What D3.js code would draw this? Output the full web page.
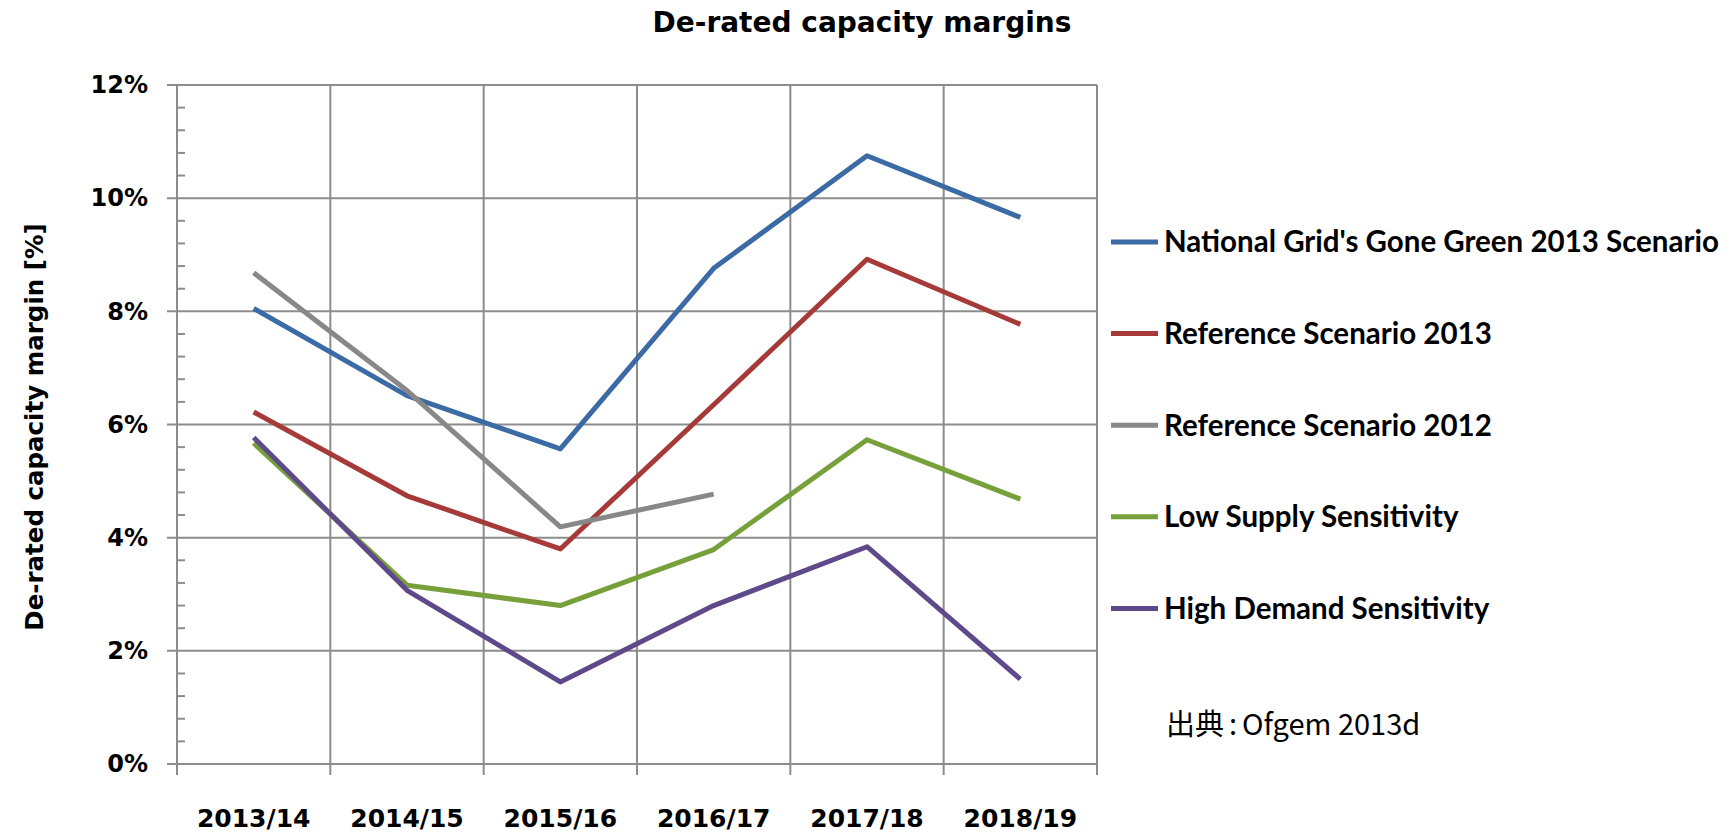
<!DOCTYPE html>
<html>
<head>
<meta charset="utf-8">
<script src="https://cdn.jsdelivr.net/npm/d3@7"></script>
<style>
    body { margin: 0; background: #fff; }
    text { font-family: 'DejaVu Sans', Verdana, sans-serif; fill: #000; }
</style>
</head>
<body>
<div id="chart"></div>
<script>
"use strict";

// categories along the x axis
var categories = ["2013/14", "2014/15", "2015/16", "2016/17", "2017/18", "2018/19"];

// series values, in percent
var nationalGrid = [8.05, 6.51, 5.57, 8.76, 10.75, 9.66];
var reference2013 = [6.22, 4.74, 3.80, 6.35, 8.92, 7.77];
var reference2012 = [8.68, 6.60, 4.19, 4.77, null, null];
var lowSupply = [5.67, 3.16, 2.80, 3.79, 5.73, 4.68];
var highDemand = [5.77, 3.07, 1.45, 2.80, 3.84, 1.50];

// series names for the legend
var seriesNames = [
    "National Grid's Gone Green 2013 Scenario",
    "Reference Scenario 2013",
    "Reference Scenario 2012",
    "Low Supply Sensitivity",
    "High Demand Sensitivity"
];

// y ticks (percent)
var yTicks = [0, 2, 4, 6, 8, 10, 12];

var colors = ["#3b6aa4", "#a53a38", "#888888", "#77a03a", "#5e4a8a"];

var series = [nationalGrid, reference2013, reference2012, lowSupply, highDemand].map(function (v, i) {
    return { name: seriesNames[i], color: colors[i], values: v };
});

var width = 1735, height = 833;
var margin = { top: 85, right: 638, bottom: 69, left: 177 };
var plotW = width - margin.left - margin.right,
    plotH = height - margin.top - margin.bottom;

var svg = d3.select("#chart")
    .append("svg")
    .attr("width", width)
    .attr("height", height);

var g = svg.append("g")
    .attr("transform", "translate(" + margin.left + "," + margin.top + ")");

// scales
var x = d3.scaleBand()
    .domain(categories)
    .range([0, plotW]);

var y = d3.scaleLinear()
    .domain([0, 12])
    .range([plotH, 0]);

var gridColor = "#8c8c8c";

// horizontal gridlines (stick out left as major ticks)
g.append("g")
    .selectAll("line")
    .data(yTicks)
    .enter()
    .append("line")
    .attr("x1", -10)
    .attr("x2", plotW)
    .attr("y1", function (d) { return y(d); })
    .attr("y2", function (d) { return y(d); })
    .attr("stroke", gridColor)
    .attr("stroke-width", 2);

// vertical gridlines at category boundaries, with ticks below the axis
var bounds = categories.map(function (c) { return x(c); }).concat([plotW]);
g.append("g")
    .selectAll("line")
    .data(bounds)
    .enter()
    .append("line")
    .attr("x1", function (d) { return d; })
    .attr("x2", function (d) { return d; })
    .attr("y1", 0)
    .attr("y2", plotH + 11)
    .attr("stroke", gridColor)
    .attr("stroke-width", 2);

// minor ticks on the y axis, inside the plot
var minor = d3.range(0, 12, 0.4).filter(function (d) { return Math.abs(d / 2 - Math.round(d / 2)) > 0.01; });
g.append("g")
    .selectAll("line")
    .data(minor)
    .enter()
    .append("line")
    .attr("x1", 0)
    .attr("x2", 8)
    .attr("y1", function (d) { return y(d); })
    .attr("y2", function (d) { return y(d); })
    .attr("stroke", gridColor)
    .attr("stroke-width", 2);

// y axis labels
var yAxis = g.append("g")
    .call(d3.axisLeft(y).tickValues(yTicks).tickSize(0).tickPadding(29)
        .tickFormat(function (d) { return d + "%"; }));
yAxis.select(".domain").remove();
yAxis.selectAll("text")
    .attr("fill", "#000")
    .style("font-family", "'DejaVu Sans', Verdana, sans-serif")
    .style("font-weight", "bold")
    .style("font-size", "24px");

// x axis labels
var xAxis = g.append("g")
    .attr("transform", "translate(0," + plotH + ")")
    .call(d3.axisBottom(x).tickSize(0));
xAxis.select(".domain").remove();
xAxis.selectAll("text")
    .attr("fill", "#000")
    .attr("y", 63)
    .attr("dy", 0)
    .style("font-family", "'DejaVu Sans', Verdana, sans-serif")
    .style("font-weight", "bold")
    .style("font-size", "25px");

// lines
var line = d3.line()
    .defined(function (d) { return d !== null; })
    .x(function (d, i) { return x(categories[i]) + x.bandwidth() / 2; })
    .y(function (d) { return y(d); });

g.append("g")
    .selectAll("path")
    .data(series)
    .enter()
    .append("path")
    .attr("d", function (d) { return line(d.values); })
    .attr("fill", "none")
    .attr("stroke", function (d) { return d.color; })
    .attr("stroke-width", 5)
    .attr("stroke-linejoin", "round");

// title
svg.append("text")
    .attr("x", 862)
    .attr("y", 32)
    .attr("text-anchor", "middle")
    .style("font-weight", "bold")
    .style("font-size", "28px")
    .text("De-rated capacity margins");

// y axis title
svg.append("text")
    .attr("transform", "translate(43,427) rotate(-90)")
    .attr("text-anchor", "middle")
    .style("font-weight", "bold")
    .style("font-size", "24.5px")
    .text("De-rated capacity margin [%]");

// legend
var legend = svg.append("g")
    .selectAll("g")
    .data(series)
    .enter()
    .append("g")
    .attr("transform", function (d, i) { return "translate(1111," + (242 + i * 91.6) + ")"; });

legend.append("line")
    .attr("x1", 0)
    .attr("x2", 47)
    .attr("stroke", function (d) { return d.color; })
    .attr("stroke-width", 5);

legend.append("text")
    .attr("x", 53)
    .attr("dy", "0.35em")
    .style("font-family", "Lato, 'Open Sans', sans-serif")
    .style("font-weight", "bold")
    .style("font-size", "29.5px")
    .text(function (d) { return d.name; });

// source note
var note = svg.append("text")
    .attr("x", 1166)
    .attr("y", 735)
    .style("font-family", "'Noto Sans CJK JP', 'Noto Sans', sans-serif")
    .style("font-size", "29px");
note.append("tspan").text("出典");
note.append("tspan").attr("dx", 5).text(":");
note.append("tspan").attr("dx", 5).text("Ofgem 2013d");
</script>
</body>
</html>
